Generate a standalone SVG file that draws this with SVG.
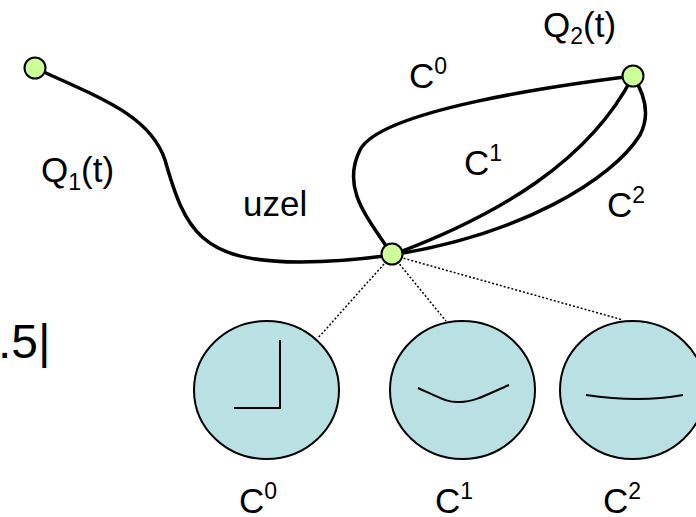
<svg xmlns="http://www.w3.org/2000/svg" width="696" height="517" viewBox="0 0 696 517">
<style>
.t{font-family:"Liberation Sans",Arial,sans-serif;font-size:35px;fill:#000}
.s{font-size:23px}
.crv{fill:none;stroke:#000;stroke-width:3.5}
.pt{fill:#ccff99;stroke:#000;stroke-width:2}
.dis{fill:#b9e0e3;stroke:#000;stroke-width:2}
.dot{fill:none;stroke:#000;stroke-width:1.5;stroke-dasharray:2 2}
.in{fill:none;stroke:#000;stroke-width:2}
</style>
<rect width="696" height="517" fill="#fff"/>
<g id="connectors">
<path class="crv" d="M35,68 C100,98 150,115 165,160 C185,230 200,262 300,262 C340,262 370,258 392,255"/>
<path class="crv" d="M392,255 C370,220 340,190 360,150 C380,110 560,85 633,76"/>
<path class="crv" d="M392,255 C500,215 590,160 633,76"/>
<path class="crv" d="M392,255 C520,235 612,180 640,135 C652,112 642,90 633,76"/>
<path class="dot" d="M392,255 L318,338"/>
<path class="dot" d="M392,255 L446,321"/>
<path class="dot" d="M392,255 L623,320"/>
</g>
<g id="node-start"><circle class="pt" cx="35" cy="68" r="10.5"/></g>
<g id="node-end"><circle class="pt" cx="633" cy="76" r="10.5"/></g>
<g id="node-knot"><circle class="pt" cx="392" cy="254" r="10.5"/></g>
<g id="disc-c0">
<ellipse class="dis" cx="266.5" cy="390" rx="72.5" ry="69"/>
<path class="in" d="M280,340 L280,408 L234,408" stroke-width="2.5"/>
</g>
<g id="disc-c1">
<ellipse class="dis" cx="462.5" cy="390" rx="72.5" ry="69"/>
<path class="in" d="M418,388 C440,398 448,403 460,402 C475,402 490,393 509,385"/>
</g>
<g id="disc-c2">
<ellipse class="dis" cx="632.5" cy="390" rx="72.5" ry="69"/>
<path class="in" d="M586,395 C620,400 650,401 683,395"/>
</g>
<g id="labels">
<text class="t" x="41" y="182">Q<tspan class="s" dy="8">1</tspan><tspan dy="-8">(t)</tspan></text>
<text class="t" x="543" y="37">Q<tspan class="s" dy="7">2</tspan><tspan dy="-7">(t)</tspan></text>
<text class="t" x="409" y="88">C<tspan class="s" dy="-14">0</tspan></text>
<text class="t" x="464" y="175">C<tspan class="s" dy="-14">1</tspan></text>
<text class="t" x="607" y="217">C<tspan class="s" dy="-14">2</tspan></text>
<text class="t" x="243" y="216">uzel</text>
<text class="t" x="-2" y="358" style="font-size:48px">.5|</text>
<text class="t" x="239" y="513">C<tspan class="s" dy="-14">0</tspan></text>
<text class="t" x="435" y="513">C<tspan class="s" dy="-14">1</tspan></text>
<text class="t" x="603" y="513">C<tspan class="s" dy="-14">2</tspan></text>
</g>
</svg>
